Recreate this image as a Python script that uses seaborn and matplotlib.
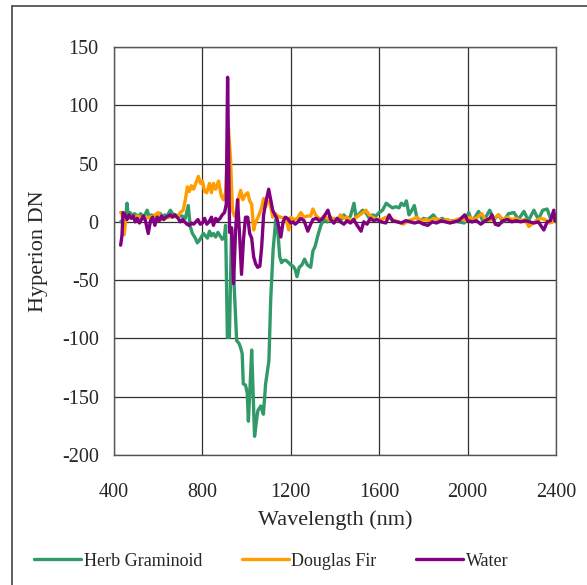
import pandas as pd
import numpy as np
import matplotlib.pyplot as plt
import seaborn as sns
from matplotlib.lines import Line2D

# Herb Graminoid
herb_wl = [430, 441, 450, 459, 464, 473, 482, 492, 501, 510, 520, 530, 540, 550, 560, 570, 580, 590,
           600, 610, 620, 630, 640, 655, 665, 675, 690, 709, 723, 736, 745, 755, 768, 777, 786, 795,
           805, 814, 823, 832, 841, 850, 860, 870, 880, 890, 900, 905, 913, 922, 932, 945, 955, 965,
           973, 980, 985, 995, 1003, 1008, 1016, 1023, 1036, 1045, 1051, 1064, 1076, 1086, 1101,
           1109, 1120, 1132, 1140, 1150, 1158, 1168, 1178, 1190, 1200, 1210, 1220, 1228, 1238, 1250,
           1262, 1275, 1290, 1300, 1310, 1322, 1336, 1350, 1365, 1380, 1395, 1410, 1425, 1440, 1455,
           1470, 1486, 1495, 1510, 1525, 1540, 1555, 1570, 1585, 1600, 1615, 1632, 1645, 1660, 1675,
           1690, 1700, 1712, 1723, 1735, 1745, 1759, 1770, 1785, 1800, 1820, 1845, 1865, 1885, 1910,
           1935, 1960, 1985, 2005, 2020, 2050, 2070, 2100, 2120, 2140, 2160, 2185, 2210, 2230, 2255,
           2275, 2300, 2320, 2340, 2360, 2375, 2395]
herb_dn = [0, 2, -2, 16, 5, 8, 5, 7, 6, 4, 7, 5, 6, 10, 4, 6, 5, 6,
           5, 7, 4, 6, 5, 10, 7, 6, 5, 5, 3, 14, -4, -10, -14, -18, -16, -13,
           -10, -12, -14, -8, -12, -10, -13, -9, -12, -15, -12, -3, -99, -99, -6, -60, -102, -104,
           -108, -113, -139, -140, -147, -171, -140, -110, -184, -170, -162, -158, -165, -139, -119,
           -67, -24, 2, -5, -30, -35, -33, -33, -35, -37, -38, -41, -47, -39, -37,
           -32, -37, -39, -25, -21, -12, -3, 2, 0, 4, -1, 3, 1, 6, 2,
           5, 16, 4, 7, 10, 8, 3, 6, 5, 8, 10, 16, 14, 12, 13,
           12, 16, 14, 18, 6, 9, 14, 4, 0, 3, 2, 6, 1, 3, 0,
           1, 0, -1, 8, 0, 9, 0, 10, 2, 6, 0, 7, 8, 2, 9,
           1, 10, 2, 10, 11, 3, 6]

# Douglas Fir
fir_wl = [430, 436, 446, 455, 464, 475, 490, 505, 520, 540, 560, 580, 600, 615, 630, 650, 670, 686,
          700, 713, 723, 732, 741, 750, 760, 770, 782, 791, 800, 810, 820, 832, 841, 850, 860, 873,
          886, 895, 905, 918, 927, 936, 945, 955, 964, 973, 983, 993, 1005, 1014, 1023, 1032, 1041,
          1050, 1060, 1069, 1077, 1086, 1095, 1105, 1112, 1118, 1130, 1140, 1155, 1170, 1180, 1191,
          1200, 1215, 1230, 1245, 1260, 1275, 1290, 1300, 1315, 1336, 1350, 1365, 1380, 1395, 1410,
          1425, 1440, 1455, 1470, 1490, 1505, 1527, 1540, 1555, 1570, 1590, 1610, 1630, 1650, 1670,
          1690, 1710, 1730, 1750, 1770, 1790, 1810, 1830, 1850, 1870, 1890, 1910, 1930, 1950, 1970,
          1990, 2010, 2030, 2050, 2064, 2080, 2100, 2120, 2140, 2160, 2180, 2200, 2220, 2240, 2260,
          2277, 2290, 2310, 2330, 2350, 2370, 2385, 2395]
fir_dn = [8, 8, -11, 5, 3, 5, 3, 5, 4, 3, 4, 5, 8, 2, 3, 4, 5, 4,
          8, 10, 19, 30, 26, 31, 28, 33, 39, 33, 35, 26, 25, 33, 25, 33, 28, 35,
          22, 19, 25, 80, 55, 10, 5, 8, 20, 27, 19, 23, 25, 18, 15, -7, 0,
          3, 8, 13, 20, 13, 18, 16, 10, 4, 7, 5, 4, 3, 1, -7,
          4, 2, 3, 8, 4, 5, 5, 11, 5, 2, 5, 3, 1, 3, 1,
          6, 3, 4, 1, 3, 5, 8, 10, 6, 4, 2, 2, 4, 3, 1,
          0, -2, 1, 2, 4, 1, 2, 1, 3, 2, 1, 2, 0, 2, 3,
          1, 4, 2, 5, 7, 2, 1, 3, 6, 2, 4, 2, 3, 1, 2,
          -4, -2, 1, 3, 2, -1, 0, 1]

# Water
water_wl = [430, 436, 441, 450, 459, 468, 478, 487, 496, 505, 515, 524, 533, 542, 555, 565, 575, 585,
            595, 605, 615, 625, 635, 645, 655, 665, 675, 690, 700, 710, 720, 730, 740, 750, 760, 770,
            780, 790, 800, 810, 820, 830, 841, 850, 860, 870, 880, 890, 900, 908, 914, 923, 932, 941,
            950, 959, 968, 977, 986, 995, 1005, 1014, 1023, 1032, 1041, 1050, 1060, 1068, 1077, 1086,
            1100, 1110, 1118, 1128, 1137, 1146, 1155, 1165, 1175, 1185, 1200, 1210, 1220, 1232, 1245,
            1260, 1277, 1290, 1300, 1315, 1330, 1345, 1368, 1380, 1395, 1410, 1425, 1440, 1455, 1470,
            1485, 1500, 1518, 1530, 1545, 1560, 1575, 1590, 1609, 1630, 1645, 1660, 1680, 1700, 1720,
            1740, 1760, 1780, 1800, 1820, 1840, 1860, 1880, 1900, 1920, 1940, 1960, 1987, 2000, 2020,
            2040, 2060, 2080, 2100, 2110, 2125, 2140, 2160, 2180, 2200, 2220, 2240, 2260, 2280, 2300,
            2320, 2345, 2360, 2375, 2390, 2395]
water_dn = [-20, -12, 8, 6, 2, 6, 3, 5, 0, 3, -1, 2, 5, 1, -10, 1, 4, -3,
            4, 1, 5, 2, 4, 5, 6, 4, 6, 3, 0, 2, 0, -2, -3, -1, -2, 0,
            2, -2, -1, 3, -2, 0, 4, -3, 3, 1, 3, 6, 8, 15, 124, -9, -5, -53,
            -8, 19, -10, -45, -15, 4, 4, -10, -14, -30, -36, -39, -38, -22, 6, 16,
            28, 18, 10, 6, 3, -5, -13, 0, 4, 3, -1, 0, -2, 0, 3,
            1, -8, -2, 2, 3, 1, 3, 10, 2, -1, 3, 0, -2, 1, -1,
            2, -3, -8, 0, -2, 3, 1, 2, 0, -1, 6, 1, 0, -1, 1,
            0, -1, 0, -2, -3, 0, -1, 1, 0, -1, 0, 1, 6, 1, 0,
            1, -2, 1, 3, 6, -2, -3, 1, 2, 0, 1, 0, 1, 0, -1,
            0, -7, 0, 1, 10, 1]

series_names = ['Herb Graminoid', 'Douglas Fir', 'Water']
series_colors = ['#329A69', '#FF9C00', '#800080']
x_ticks = [400, 800, 1200, 1600, 2000, 2400]
y_ticks = [-200, -150, -100, -50, 0, 50, 100, 150]


def main():
    df = pd.concat([
        pd.DataFrame({'Wavelength': herb_wl, 'DN': herb_dn, 'Type': series_names[0]}),
        pd.DataFrame({'Wavelength': fir_wl, 'DN': fir_dn, 'Type': series_names[1]}),
        pd.DataFrame({'Wavelength': water_wl, 'DN': water_dn, 'Type': series_names[2]}),
    ], ignore_index=True)

    sns.set_style('white')
    plt.rcParams['font.family'] = ['Liberation Serif', 'DejaVu Serif']
    plt.rcParams['axes.unicode_minus'] = False

    fig = plt.figure(figsize=(5.87, 5.85), dpi=100)
    ax = fig.add_axes([114 / 587, 1 - 455 / 585, (556 - 114) / 587, (455 - 47) / 585])

    sns.lineplot(data=df, x='Wavelength', y='DN', hue='Type', hue_order=series_names,
                 palette=series_colors, estimator=None, sort=True, linewidth=2.4, ax=ax,
                 legend=False)

    ax.set_xlim(400, 2400)
    ax.set_ylim(-200, 150)
    ax.set_xticks(x_ticks)
    ax.set_yticks(y_ticks)
    ax.tick_params(labelsize=14.5, length=0)
    ax.tick_params(axis='x', pad=20)
    ax.tick_params(axis='y', pad=11)
    ax.grid(True, color='#303030', linewidth=0.9)
    ax.set_axisbelow(True)
    for s in ax.spines.values():
        s.set_color('#555555')
        s.set_linewidth(1.0)

    ax.set_xlabel('Wavelength (nm)', fontsize=16, labelpad=6)
    ax.set_ylabel('Hyperion DN', fontsize=16, labelpad=10)

    handles = [Line2D([0], [0], color=c, linewidth=2.4) for c in series_colors]
    fig.legend(handles, series_names, loc='center', bbox_to_anchor=(0.462, 1 - 561 / 585),
               ncol=3, frameon=False, fontsize=13, handlelength=2.6, handletextpad=0.15,
               columnspacing=2.2)

    # outer chart border (left and top edges visible)
    fig.add_artist(Line2D([12 / 587, 12 / 587], [0, 1 - 6 / 585], color='#444444', linewidth=1.2,
                          transform=fig.transFigure))
    fig.add_artist(Line2D([12 / 587, 1], [1 - 6 / 585, 1 - 6 / 585], color='#444444', linewidth=1.2,
                          transform=fig.transFigure))

    fig.savefig('out.png', dpi=100)


if __name__ == "__main__":
    main()
